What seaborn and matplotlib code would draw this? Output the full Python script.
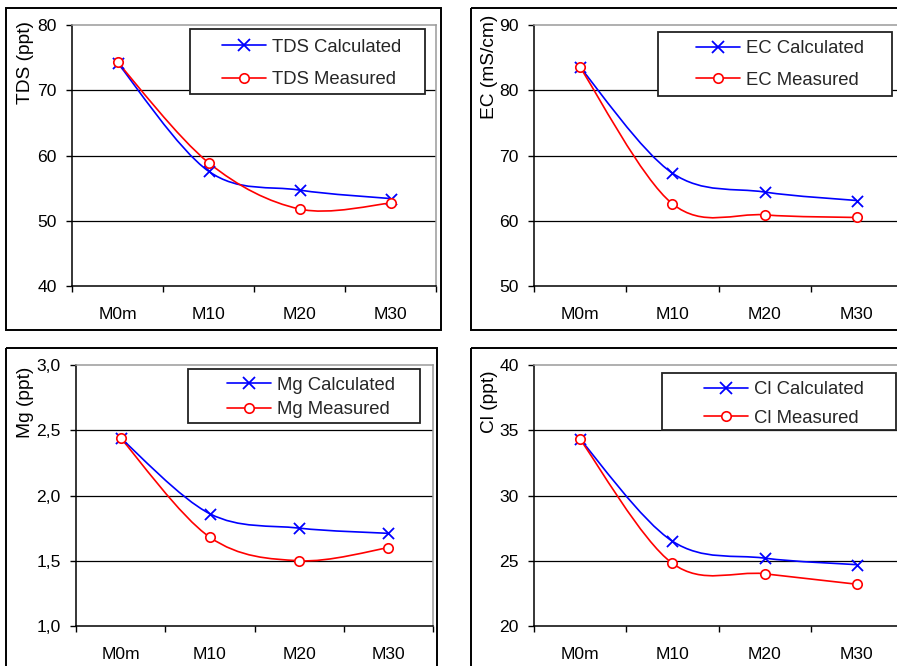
import numpy as np
import pandas as pd
import matplotlib
matplotlib.use("Agg")
import matplotlib.pyplot as plt
import seaborn as sns
from matplotlib.path import Path
from matplotlib.patches import PathPatch, Rectangle
from matplotlib.lines import Line2D
from matplotlib.transforms import Affine2D
from matplotlib.ticker import FuncFormatter

# ---------------- data ----------------
categories = ["M0m", "M10", "M20", "M30"]

tds_calc = [74.2, 57.6, 54.7, 53.4]
tds_meas = [74.3, 58.9, 51.8, 52.7]

ec_calc = [83.5, 67.3, 64.4, 63.1]
ec_meas = [83.5, 62.6, 60.9, 60.5]

mg_calc = [2.44, 1.86, 1.75, 1.71]
mg_meas = [2.44, 1.68, 1.50, 1.60]

cl_calc = [34.3, 26.5, 25.2, 24.7]
cl_meas = [34.3, 24.8, 24.0, 23.2]

panels = [
    dict(name="TDS", ylabel="TDS (ppt)", calc=tds_calc, meas=tds_meas,
         ylim=(40, 80), yticks=[40, 50, 60, 70, 80], comma=False),
    dict(name="EC", ylabel="EC (mS/cm)", calc=ec_calc, meas=ec_meas,
         ylim=(50, 90), yticks=[50, 60, 70, 80, 90], comma=False),
    dict(name="Mg", ylabel="Mg (ppt)", calc=mg_calc, meas=mg_meas,
         ylim=(1.0, 3.0), yticks=[1.0, 1.5, 2.0, 2.5, 3.0], comma=True),
    dict(name="Cl", ylabel="Cl (ppt)", calc=cl_calc, meas=cl_meas,
         ylim=(20, 40), yticks=[20, 25, 30, 35, 40], comma=False),
]

# ---------------- layout (pixels, origin top-left) ----------------
W, H = 897, 666
axes_px = [(72, 25, 436, 286), (534, 25, 903, 286),
           (76, 365, 433, 626), (534, 365, 903, 626)]
frames_px = [(6, 8, 441, 330), (471, 8, 906, 330),
             (6, 348, 437, 670), (471, 348, 906, 670)]
legbox_px = [(190, 29, 425, 94), (658, 32, 892, 96),
             (188, 369, 420, 423), (662, 373, 896, 430)]
leg_anchor = [(222, 63.5, 0.85), (696, 64.5, 0.8),
              (227, 397.5, 0.42), (704, 404, 0.6)]
ylabel_px = [(26, 62), (489, 67), (26, 402), (489, 402)]

sns.set_theme(style="white")
plt.rcParams["font.family"] = ["Liberation Sans", "DejaVu Sans"]

fig = plt.figure(figsize=(W / 100, H / 100), dpi=100)
fig.patch.set_facecolor("white")
px = Affine2D().scale(1 / W, -1 / H).translate(0, 1) + fig.transFigure

BLUE = "#0000FF"
RED = "#FF0000"


def smooth_path(xs, ys):
    """Excel-style smoothed line: cubic Bezier with Catmull-Rom control points."""
    pts = np.column_stack([xs, ys]).astype(float)
    n = len(pts)
    verts = [pts[0]]
    codes = [Path.MOVETO]
    for i in range(n - 1):
        p0 = pts[i - 1] if i > 0 else pts[i]
        p1 = pts[i]
        p2 = pts[i + 1]
        p3 = pts[i + 2] if i + 2 < n else pts[i + 1]
        c1 = p1 + (p2 - p0) / 6.0
        c2 = p2 - (p3 - p1) / 6.0
        verts += [c1, c2, p2]
        codes += [Path.CURVE4] * 3
    return Path(verts, codes)


for i, p in enumerate(panels):
    l, t, r, b = axes_px[i]
    ax = fig.add_axes([l / W, 1 - b / H, (r - l) / W, (b - t) / H])
    ax.set_facecolor("white")
    xpos = np.arange(len(categories))
    df = pd.DataFrame({"x": xpos, "calc": p["calc"], "meas": p["meas"]})

    # smoothed connecting lines
    ax.add_patch(PathPatch(smooth_path(df["x"], df["calc"]), fill=False,
                           edgecolor=BLUE, lw=1.2, zorder=3))
    ax.add_patch(PathPatch(smooth_path(df["x"], df["meas"]), fill=False,
                           edgecolor=RED, lw=1.2, zorder=3))
    # markers
    sns.scatterplot(data=df, x="x", y="calc", ax=ax, marker="x", s=64,
                    color=BLUE, linewidth=1.3, zorder=4, legend=False)
    sns.scatterplot(data=df, x="x", y="meas", ax=ax, marker="o", s=46,
                    facecolor="white", edgecolor=RED, linewidth=1.2,
                    zorder=5, legend=False)

    ax.set_xlim(-0.5, len(categories) - 0.5)
    ax.set_ylim(*p["ylim"])
    ax.set_xticks(xpos)
    ax.set_xticklabels(categories)
    ax.set_xticks(np.arange(-0.5, len(categories), 1.0), minor=True)
    ax.tick_params(axis="x", which="major", length=0, pad=15, labelsize=12.6,
                   labelcolor="black")
    ax.tick_params(axis="x", which="minor", length=4, width=1, color="black",
                   direction="out", bottom=True)
    ax.set_yticks(p["yticks"])
    if p["comma"]:
        ax.yaxis.set_major_formatter(FuncFormatter(lambda v, _: f"{v:.1f}".replace(".", ",")))
    else:
        ax.yaxis.set_major_formatter(FuncFormatter(lambda v, _: f"{v:.0f}"))
    ax.tick_params(axis="y", which="major", length=4, width=1, color="black",
                   direction="out", left=True, pad=7, labelsize=12.6,
                   labelcolor="black")
    # horizontal gridlines (interior)
    for yv in p["yticks"][1:-1]:
        ax.axhline(yv, color="black", lw=0.9, zorder=1)
    for side in ["left", "bottom"]:
        ax.spines[side].set_color("black")
        ax.spines[side].set_linewidth(1.1)
    for side in ["top", "right"]:
        ax.spines[side].set_color("#9a9a9a")
        ax.spines[side].set_linewidth(1.1)
    ax.set_xlabel("")
    ax.set_ylabel(p["ylabel"], fontsize=13.8, color="black",
                  ha="center", va="center", rotation=90)
    ax.yaxis.set_label_coords(*ylabel_px[i], transform=px)

    # legend box
    bl, bt, br, bb = legbox_px[i]
    fig.add_artist(Rectangle((bl, bt), br - bl, bb - bt, transform=px,
                             facecolor="white", edgecolor="#222222", lw=1.3,
                             zorder=4))
    handles = [
        Line2D([], [], color=BLUE, lw=1.2, marker="x", markersize=8,
               mew=1.3),
        Line2D([], [], color=RED, lw=1.2, marker="o", markersize=6.8,
               markerfacecolor="white", markeredgecolor=RED, mew=1.2),
    ]
    labels = [f"{p['name']} Calculated", f"{p['name']} Measured"]
    hx, hy, lsp = leg_anchor[i]
    leg = fig.legend(handles, labels, loc="center left",
                     bbox_to_anchor=(hx, hy), bbox_transform=px,
                     frameon=False, fontsize=13.3, handlelength=2.4,
                     handletextpad=0.3, labelspacing=lsp, borderpad=0,
                     borderaxespad=0)
    leg.set_zorder(6)

    # outer chart frame
    fl, ft, fr, fb = frames_px[i]
    fig.add_artist(Rectangle((fl, ft), fr - fl, fb - ft, transform=px,
                             fill=False, edgecolor="black", lw=1.4, zorder=7))

fig.savefig("out.png", dpi=100, facecolor="white")
